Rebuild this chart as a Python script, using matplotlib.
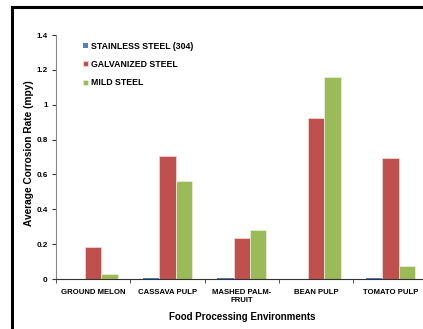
import numpy as np
import matplotlib.pyplot as plt
from matplotlib.lines import Line2D

plt.rcParams['font.family'] = ['Liberation Sans', 'DejaVu Sans']
plt.rcParams['font.weight'] = 'bold'

#data
categories = ['GROUND MELON', 'CASSAVA PULP', 'MASHED PALM-\nFRUIT', 'BEAN PULP', 'TOMATO PULP']
stainless = [0.0, 0.005, 0.005, 0.0, 0.005]
galvanized = [0.182, 0.706, 0.237, 0.925, 0.696]
mild = [0.029, 0.562, 0.281, 1.157, 0.076]
yticks = [0, 0.2, 0.4, 0.6, 0.8, 1, 1.2, 1.4]

fig = plt.figure(figsize=(4.23, 3.29), dpi=100)
ax = fig.add_axes([56/423, 1 - 279/329, 371.5/423, 244/329])

x = np.arange(len(categories))
w = 0.222
ax.bar(x - w, stainless, w, color='#4F81BD', label='STAINLESS STEEL (304)')
ax.bar(x, galvanized, w, color='#C0504D', edgecolor='#F2DCDB', linewidth=0.5, label='GALVANIZED STEEL')
ax.bar(x + w, mild, w, color='#9BBB59', edgecolor='#EBF1DE', linewidth=0.5, label='MILD STEEL')

ax.set_xlim(-0.5, len(categories) - 0.5)
ax.set_ylim(0, 1.4)
ax.set_yticks(yticks)
ax.set_yticklabels(['0', '0.2', '0.4', '0.6', '0.8', '1', '1.2', '1.4'], fontsize=5.8)
ax.set_xticks(x)
ax.set_xticklabels(categories, fontsize=5.6)
ax.set_xticks(np.arange(len(categories) + 1) - 0.5, minor=True)
ax.tick_params(axis='x', which='major', length=0, pad=7)
ax.tick_params(axis='x', which='minor', length=3, color='#333333', direction='out')
ax.tick_params(axis='y', length=3, color='#333333', pad=3)

for s in ['top', 'right']:
    ax.spines[s].set_visible(False)
ax.spines['left'].set_color('#888888')
ax.spines['bottom'].set_color('#333333')

ax.set_xlabel('Food Processing Environments', fontsize=7, fontweight='bold', labelpad=6)
ax.set_ylabel('Average Corrosion Rate (mpy)', fontsize=7.3, fontweight='bold')
ax.yaxis.set_label_coords(-0.058, 0.516)

ax.legend(loc='upper left', bbox_to_anchor=(0.052, 1.004), frameon=False, fontsize=6.3,
          handlelength=0.5, handleheight=0.5, handletextpad=0.4, labelspacing=1.05)

#black frame around the chart (cropped at right and bottom)
fig.add_artist(Line2D([12/423, 1], [1 - 7/329, 1 - 7/329], color='black', lw=2.2))
fig.add_artist(Line2D([12/423, 12/423], [0, 1 - 7/329], color='black', lw=2.2))

plt.savefig('out.png', dpi=100)
